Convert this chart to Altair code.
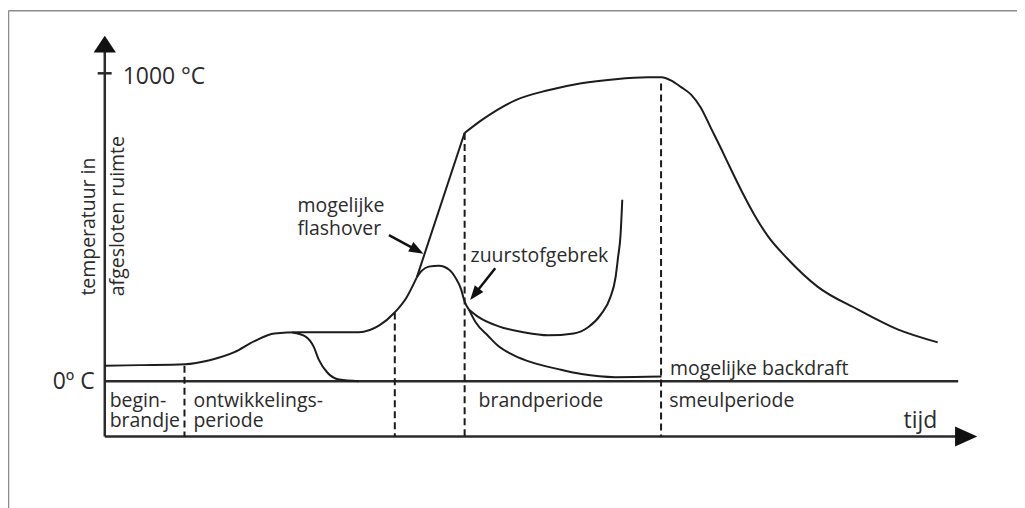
import altair as alt
import pandas as pd

# ---------------- data (time in arbitrary units 0..100, temperature in °C) ----------------
# main curve: initial fire + development (smooth part)
RISE_T = [0, 4.1, 9.4, 12.3, 15.2, 17.5, 19.9, 22.8, 29.8, 32.2, 34.0, 35.4, 36.6]
RISE_C = [50, 52, 55, 68, 94, 129, 155, 159, 159, 181, 223, 272, 337]
# flashover (straight)
FLASH_T = [36.6, 42.2]
FLASH_C = [337, 806]
# fully developed fire + decay
FULL_T = [42.2, 44.2, 48.2, 52.0, 55.9, 59.9, 63.7, 65.3, 66.4, 67.6, 68.8, 69.9, 71.1,
          72.3, 73.5, 74.8, 76.2, 77.8, 80.0, 83.6, 88.3, 93.0, 97.7]
FULL_C = [806, 848, 913, 945, 968, 981, 987, 987, 977, 955, 930, 889, 822,
          755, 685, 612, 540, 470, 400, 307, 233, 168, 126]
# early extinction during development
DEV_T = [22.0, 23.6, 24.5, 25.1, 26.1, 27.5, 29.8]
DEV_C = [158, 144, 112, 70, 28, 5, 0]
# oxygen-limited peak
PEAK_T = [36.6, 37.2, 38.0, 39.2, 40.4, 41.2, 41.8, 42.2, 42.7]
PEAK_C = [337, 359, 372, 375, 362, 333, 298, 259, 233]
# possible backdraft branch
BACK_T = [42.7, 43.9, 46.2, 49.1, 52.0, 55.0, 56.7, 58.2, 59.3, 59.9, 60.2, 60.5, 60.7]
BACK_C = [233, 207, 178, 159, 149, 155, 175, 217, 272, 335, 401, 476, 589]
# smouldering branch
SMOUL_T = [42.7, 43.5, 45.0, 46.2, 48.0, 50.1, 53.2, 55.9, 59.9, 65.3]
SMOUL_C = [233, 191, 146, 113, 84, 61, 39, 23, 13, 15]

# phase boundaries
DIV_T = [9.35, 34.02, 42.21, 65.25]
DIV_TOP = [50, 223, 806, 967]
AXIS_BOTTOM = -180

# texts
PHASE_TEXT = ["begin-", "brandje", "ontwikkelings-", "periode", "brandperiode", "smeulperiode"]
PHASE_T = [0.58, 0.58, 10.4, 10.4, 43.85, 66.2]
PHASE_C = [-63, -128, -63, -128, -63, -63]

NOTE_TEXT = ["mogelijke", "flashover", "zuurstofgebrek", "mogelijke backdraft"]
NOTE_T = [22.6, 22.6, 42.9, 66.3]
NOTE_C = [568, 493, 406, 39]

AXIS_TEXT = ["1000 °C", "tijd"]
AXIS_T = [2.1, 93.7]
AXIS_C = [989, -129]

ZERO_TEXT = ["0º C"]
ZERO_T = [-1.18]
ZERO_C = [-4]

YTITLE_TEXT = ["temperatuur in", "afgesloten ruimte"]
YTITLE_T = [-1.9, 1.5]
YTITLE_C = [502, 536]

# annotation arrows (shaft start -> head centre, head angle)
ARROW_T1 = [33.33, 45.80]
ARROW_C1 = [474, 367]
ARROW_T2 = [36.64, 43.38]
ARROW_C2 = [425, 282]
ARROW_ANGLE = [28.5, 128.3]

# ---------------- build tables ----------------
def seg(ts, cs, name):
    return pd.DataFrame({"t": ts, "c": cs, "seg": name, "ord": list(range(len(ts)))})

curves = pd.concat([
    seg(RISE_T, RISE_C, "rise"),
    seg(FLASH_T, FLASH_C, "flash"),
    seg(FULL_T, FULL_C, "full"),
    seg(DEV_T, DEV_C, "dev"),
    seg(PEAK_T, PEAK_C, "peak"),
    seg(BACK_T, BACK_C, "back"),
    seg(SMOUL_T, SMOUL_C, "smoul"),
], ignore_index=True)

XS = alt.Scale(domain=[-11, 107], nice=False, zero=False)
YS = alt.Scale(domain=[-400, 1200], nice=False, zero=False)


def X(f):
    return alt.X(f, type="quantitative", scale=XS, axis=None)


def Y(f):
    return alt.Y(f, type="quantitative", scale=YS, axis=None)


INK = "#1c1c1c"
TXT = "#2b2b2b"
FONT = "Open Sans"

# frame
frame_df = pd.DataFrame({"x1": [-11.29, -11.29], "x2": [110, -11.29],
                         "y1": [1203, 1203], "y2": [1203, -440]})
frame = alt.Chart(frame_df).mark_rule(color="#8c8c8c", strokeWidth=1.5).encode(
    x=X("x1"), x2="x2", y=Y("y1"), y2="y2")

# axes
axes_df = pd.DataFrame({
    "x1": [0, 0, 0, -0.83],
    "x2": [100.1, 100.6, 0, 0.81],
    "y1": [0, AXIS_BOTTOM, AXIS_BOTTOM, 1000],
    "y2": [0, AXIS_BOTTOM, 1075, 1000],
})
axes = alt.Chart(axes_df).mark_rule(color="#2a2a2a", strokeWidth=2.5).encode(
    x=X("x1"), x2="x2", y=Y("y1"), y2="y2")

heads_df = pd.DataFrame({"t": [0, 101.04], "c": [1095, AXIS_BOTTOM],
                         "shape": ["M-1,0.75L0,-0.75L1,0.75Z", "M-1,-0.9L1,0L-1,0.9Z"]})
heads = alt.Chart(heads_df).mark_point(filled=True, color="#111", opacity=1, strokeWidth=0,
                                       size=500).encode(
    x=X("t"), y=Y("c"), shape=alt.Shape("shape:N", scale=None))

# dashed phase boundaries
div_df = pd.DataFrame({"t": DIV_T, "top": DIV_TOP, "bot": [AXIS_BOTTOM] * len(DIV_T)})
divs = alt.Chart(div_df).mark_rule(color="#1a1a1a", strokeWidth=2, strokeDash=[7, 4]).encode(
    x=X("t"), y=Y("top"), y2="bot")

# curves
lines = alt.Chart(curves).mark_line(color=INK, strokeWidth=2, interpolate="monotone").encode(
    x=X("t"), y=Y("c"), detail="seg:N", order="ord:Q")

# annotation arrows
arr_df = pd.DataFrame({"x1": ARROW_T1, "y1": ARROW_C1, "x2": ARROW_T2, "y2": ARROW_C2,
                       "ang": ARROW_ANGLE})
shafts = alt.Chart(arr_df).mark_rule(color="#111", strokeWidth=2.5).encode(
    x=X("x1"), x2="x2", y=Y("y1"), y2="y2")
arrowheads = alt.Chart(arr_df).mark_point(filled=True, color="#111", opacity=1, strokeWidth=0,
                                          shape="M-1,-0.75L1,0L-1,0.75Z", size=210).encode(
    x=X("x2"), y=Y("y2"), angle=alt.Angle("ang:Q", scale=None))


def texts(txt, ts, cs, size, align="left", angle=0):
    df = pd.DataFrame({"txt": txt, "t": ts, "c": cs})
    kw = dict(align=align, baseline="middle", font=FONT, fontSize=size, color=TXT)
    if angle:
        kw["angle"] = angle
    return alt.Chart(df).mark_text(**kw).encode(x=X("t"), y=Y("c"), text="txt:N")


layers = [
    frame, axes, divs, lines, shafts, arrowheads, heads,
    texts(PHASE_TEXT, PHASE_T, PHASE_C, 19.5),
    texts(NOTE_TEXT, NOTE_T, NOTE_C, 19.5),
    texts(AXIS_TEXT, AXIS_T, AXIS_C, 23),
    texts(ZERO_TEXT, ZERO_T, ZERO_C, 23, align="right"),
    texts(YTITLE_TEXT, YTITLE_T, YTITLE_C, 19.5, align="center", angle=270),
]

chart = alt.layer(*layers).properties(
    width=1009, height=494,
    autosize=alt.AutoSizeParams(type="none"),
    padding={"left": 3, "top": 3, "right": 0, "bottom": 3},
    background="white",
).configure_view(stroke=None)

chart.save("out.html", embed_options={"renderer": "svg", "actions": False})
